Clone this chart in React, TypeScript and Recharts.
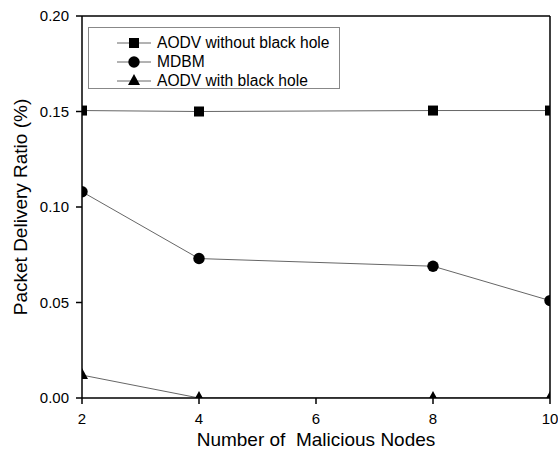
import React from 'react';
import { LineChart, Line, XAxis, YAxis, Legend, Label } from 'recharts';

const nodes = [2, 4, 8, 10];
const aodvWithout = [0.1505, 0.15, 0.1505, 0.1505];
const mdbm = [0.108, 0.073, 0.069, 0.051];
const aodvWith = [0.012, 0.0, 0.0, 0.0];
const xTicks = [2, 4, 6, 8, 10];
const yTicks = [0, 0.05, 0.1, 0.15, 0.2];
const seriesNames = ['AODV without black hole', 'MDBM', 'AODV with black hole'];
const xTitle = 'Number of\u00A0 Malicious Nodes';
const yTitle = 'Packet Delivery Ratio (%)';

const data = nodes.map((n, i) => ({ n, a: aodvWithout[i], m: mdbm[i], b: aodvWith[i] }));

const FONT = '"Liberation Sans", Arial, sans-serif';
const LINE = '#666';

const Square = (p: any) => {
  const { cx, cy, key } = p;
  if (cx == null || cy == null) return <g key={key} />;
  return <rect key={key} x={cx - 5} y={cy - 5} width={10} height={10} fill="#000" />;
};
const Circle = (p: any) => {
  const { cx, cy, key } = p;
  if (cx == null || cy == null) return <g key={key} />;
  return <circle key={key} cx={cx} cy={cy} r={5.7} fill="#000" />;
};
const Tri = (p: any) => {
  const { cx, cy, key } = p;
  if (cx == null || cy == null) return <g key={key} />;
  return (
    <polygon
      key={key}
      points={`${cx},${cy - 7} ${cx - 6},${cy + 4} ${cx + 6},${cy + 4}`}
      fill="#000"
    />
  );
};

const markerSvg = (i: number) => {
  const cx = 17, cy = 7;
  return (
    <svg width={34} height={14} style={{ display: 'block' }}>
      <line x1={0} y1={cy} x2={34} y2={cy} stroke={LINE} strokeWidth={1} />
      {i === 0 && <rect x={cx - 5} y={cy - 5} width={10} height={10} fill="#000" />}
      {i === 1 && <circle cx={cx} cy={cy} r={5.7} fill="#000" />}
      {i === 2 && <polygon points={`${cx},${cy - 7} ${cx - 6},${cy + 4} ${cx + 6},${cy + 4}`} fill="#000" />}
    </svg>
  );
};

const LegendBox = () => (
  <div
    style={{
      boxSizing: 'border-box',
      width: 252,
      height: 62,
      border: '1px solid #888',
      background: '#fff',
      paddingTop: 5,
      fontFamily: FONT,
      fontSize: 15.6,
      color: '#000',
    }}
  >
    {seriesNames.map((s, i) => (
      <div key={s} style={{ display: 'flex', alignItems: 'center', height: 19, marginLeft: 28 }}>
        {markerSvg(i)}
        <span style={{ marginLeft: 6, lineHeight: '19px', whiteSpace: 'nowrap' }}>{s}</span>
      </div>
    ))}
  </div>
);

export default function App() {
  const tickStyle = { fontFamily: FONT, fontSize: 15, fill: '#000' };
  return (
    <div style={{ position: 'absolute', left: 0, top: 0, width: 558, height: 456, overflow: 'hidden' }}>
      <LineChart
        width={558}
        height={456}
        data={data}
        margin={{ top: 16, right: 8, left: 0, bottom: 0 }}
        style={{ fontFamily: FONT }}
      >
        <XAxis
          dataKey="n"
          type="number"
          domain={[2, 10]}
          ticks={xTicks}
          interval={0}
          allowDataOverflow
          height={58}
          tick={tickStyle}
          tickSize={6}
          tickMargin={9}
          axisLine={{ stroke: '#000', strokeWidth: 1.5 }}
          tickLine={{ stroke: '#000', strokeWidth: 1.5 }}
        >
          <Label
            value={xTitle}
            position="insideBottom"
            offset={10}
            style={{ fontFamily: FONT, fontSize: 19, fill: '#000' }}
          />
        </XAxis>
        <XAxis
          xAxisId="top"
          orientation="top"
          type="number"
          domain={[2, 10]}
          ticks={xTicks}
          allowDataOverflow
          mirror
          tick={false}
          tickSize={5}
          axisLine={{ stroke: '#000', strokeWidth: 1.5 }}
          tickLine={{ stroke: '#000', strokeWidth: 1.5 }}
        />
        <YAxis
          type="number"
          domain={[0, 0.2]}
          ticks={yTicks}
          allowDataOverflow
          width={82}
          tick={tickStyle}
          tickSize={6}
          tickMargin={7}
          tickFormatter={(v: number) => v.toFixed(2)}
          axisLine={{ stroke: '#000', strokeWidth: 1.5 }}
          tickLine={{ stroke: '#000', strokeWidth: 1.5 }}
        >
          <Label
            value={yTitle}
            angle={-90}
            position="insideLeft"
            offset={20}
            textAnchor="middle"
            style={{ fontFamily: FONT, fontSize: 19, fill: '#000', textAnchor: 'middle' }}
          />
        </YAxis>
        <YAxis
          yAxisId="right"
          orientation="right"
          type="number"
          domain={[0, 0.2]}
          ticks={yTicks}
          allowDataOverflow
          mirror
          tick={false}
          tickSize={5}
          axisLine={{ stroke: '#000', strokeWidth: 1.5 }}
          tickLine={{ stroke: '#000', strokeWidth: 1.5 }}
        />
        <Legend
          layout="horizontal"
          verticalAlign="middle"
          align="center"
          content={() => <LegendBox />}
          wrapperStyle={{ position: 'absolute', left: 88, top: 27, width: 252, height: 62 }}
        />
        <Line dataKey="a" name={seriesNames[0]} stroke={LINE} strokeWidth={1} dot={Square} activeDot={false} isAnimationActive={false} />
        <Line dataKey="m" name={seriesNames[1]} stroke={LINE} strokeWidth={1} dot={Circle} activeDot={false} isAnimationActive={false} />
        <Line dataKey="b" name={seriesNames[2]} stroke={LINE} strokeWidth={1} dot={Tri} activeDot={false} isAnimationActive={false} />
      </LineChart>
    </div>
  );
}
